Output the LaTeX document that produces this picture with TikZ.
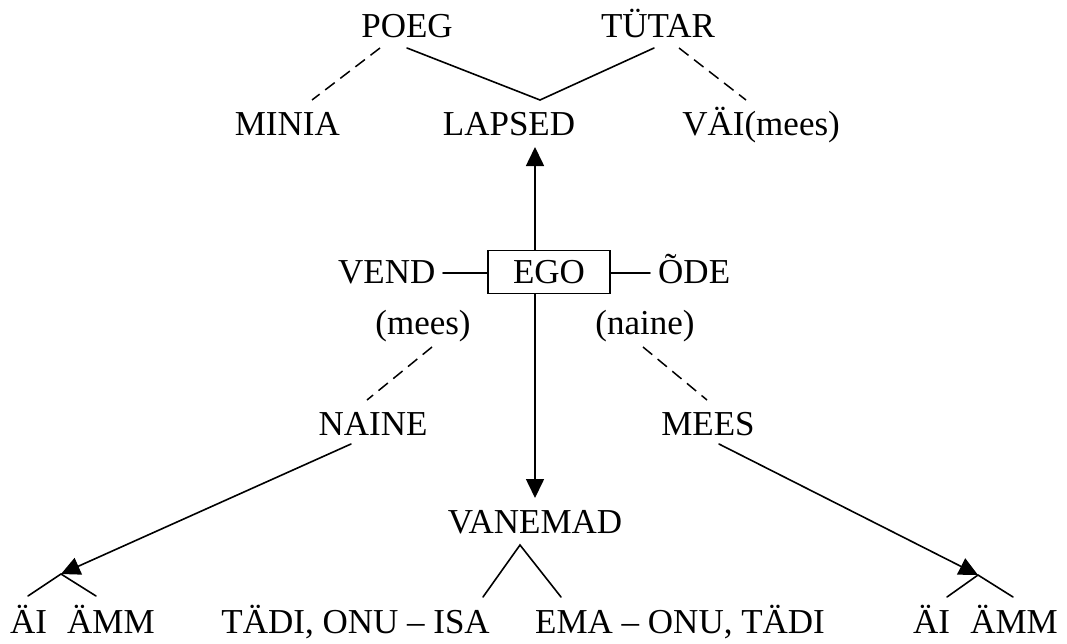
\documentclass[tikz,border=0pt]{standalone}
\usepackage{fontspec}
\setmainfont{Liberation Serif}
\usetikzlibrary{arrows.meta}
\tikzset{
  lbl/.style={font=\fontsize{35}{40}\selectfont, inner sep=0pt, anchor=base},
  conn/.style={line width=1.6pt, line cap=round},
  dconn/.style={line width=1.5pt, dash pattern=on 12pt off 7pt},
  arr/.style={conn, -{Triangle[length=19pt,width=18pt]}},
  egobox/.style={draw, line width=1.5pt, minimum width=122pt, minimum height=43pt, inner sep=0pt, font=\fontsize{35}{40}\selectfont}
}
\begin{document}
\begin{tikzpicture}[x=1pt,y=-1pt]
\useasboundingbox (0,0) rectangle (1067,643);
% top
\node[lbl] (poeg) at (407,37) {POEG};
\node[lbl] (tytar) at (658,37) {TÜTAR};
\node[lbl, anchor=base east] (minia) at (340,135) {MINIA};
\node[lbl] (lapsed) at (509,135) {LAPSED};
\node[lbl, anchor=base east] (vai) at (840,135) {VÄI(mees)};
% middle
\node[egobox] (ego) at (549,272) {EGO};
\node[lbl, anchor=base west] (vend) at (338,283) {VEND};
\node[lbl, anchor=base west] (ode) at (658,283) {ÕDE};
\node[lbl] (mees1) at (423,334) {(mees)};
\node[lbl] (naine1) at (645,334) {(naine)};
\node[lbl] (naine) at (373,435) {NAINE};
\node[lbl] (mees) at (708,435) {MEES};
\node[lbl] (vanemad) at (535,533) {VANEMAD};
% bottom
\node[lbl, anchor=base west] (ai1) at (10,633) {ÄI};
\node[lbl, anchor=base west] (amm1) at (67,633) {ÄMM};
\node[lbl, anchor=base east] (isa) at (490,633) {TÄDI, ONU – ISA};
\node[lbl, anchor=base west] (ema) at (535,633) {EMA – ONU, TÄDI};
\node[lbl, anchor=base west] (ai2) at (913,633) {ÄI};
\node[lbl, anchor=base east] (amm2) at (1058,633) {ÄMM};
% coordinates
\coordinate (poegL) at (380,48);
\coordinate (poegR) at (407,48);
\coordinate (miniaT) at (312,100);
\coordinate (lapsedT) at (540,100);
\coordinate (tytarL) at (654,48);
\coordinate (tytarR) at (679,48);
\coordinate (vaiT) at (746,100);
\coordinate (up) at (535,147);
\coordinate (down) at (535,498);
\coordinate (vendR) at (443,273);
\coordinate (odeL) at (650,273);
\coordinate (mees1B) at (432,347);
\coordinate (naineT) at (367,400);
\coordinate (naine1B) at (643,347);
\coordinate (meesT) at (707,400);
\coordinate (naineB) at (351,444);
\coordinate (meesB) at (719,444);
\coordinate (lj) at (61,574);
\coordinate (rj) at (978,575);
\coordinate (vj) at (520,545);
\coordinate (ai1T) at (28,596);
\coordinate (amm1T) at (96,596);
\coordinate (ai2T) at (947,597);
\coordinate (amm2T) at (1013,597);
\coordinate (isaT) at (483,597);
\coordinate (emaT) at (561,597);
% connectors
\draw[dconn] (poegL) -- (miniaT);
\draw[conn] (poegR) -- (lapsedT) -- (tytarL);
\draw[dconn] (tytarR) -- (vaiT);
\draw[arr] (up |- ego.north) -- (up);
\draw[arr] (down |- ego.south) -- (down);
\draw[conn] (vendR) -- (vendR -| ego.west);
\draw[conn] (odeL -| ego.east) -- (odeL);
\draw[dconn] (mees1B) -- (naineT);
\draw[dconn] (naine1B) -- (meesT);
\draw[arr] (naineB) -- (lj);
\draw[arr] (meesB) -- (rj);
\draw[conn] (ai1T) -- (lj) -- (amm1T);
\draw[conn] (ai2T) -- (rj) -- (amm2T);
\draw[conn] (isaT) -- (vj) -- (emaT);
\end{tikzpicture}
\end{document}
